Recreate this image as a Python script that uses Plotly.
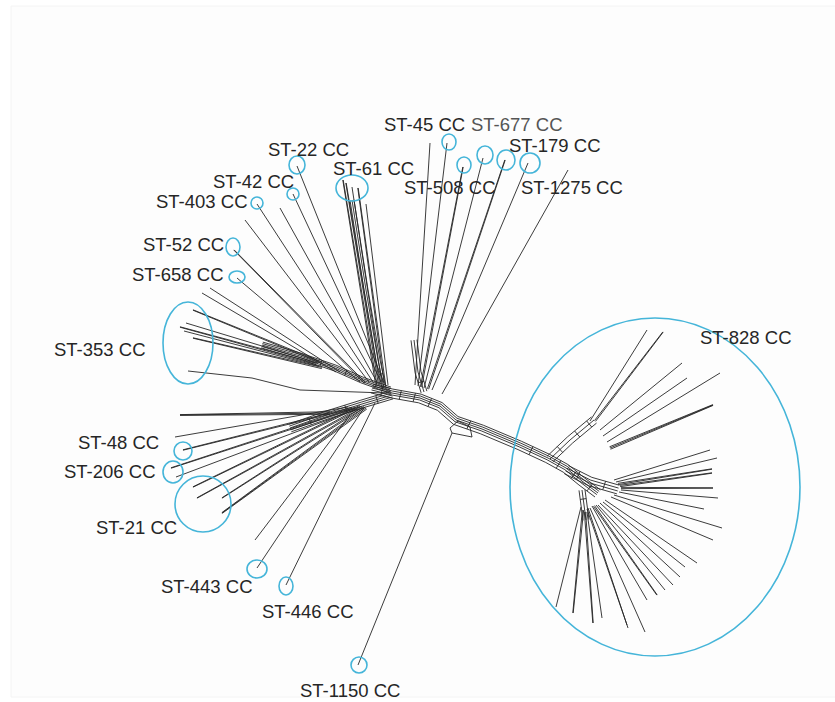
import numpy as np
import plotly.graph_objects as go

W, H = 835, 702

# ---------------- data: network nodes (pixel-like layout space) ----------------
# central backbone path of the split network
backbone_x = [372, 392, 420, 440, 456, 482, 520, 548, 566, 582, 598]
backbone_y = [388, 393, 398, 406, 420, 429, 445, 458, 468, 481, 493]
# upper-left bundle (ST-353 / ST-52 side)
ul_bundle_x = [262, 300, 335, 362, 390]
ul_bundle_y = [345, 356, 368, 380, 390]
# lower-left bundle (ST-48 / ST-21 side)
ll_bundle_x = [290, 330, 362, 392]
ll_bundle_y = [428, 414, 404, 395]
# ST-61 vertical bundle
v61_bundle_x = [352, 366, 378, 384]
v61_bundle_y = [200, 290, 360, 388]
# upper-right bundle
ur_bundle_x = [414, 418, 424]
ur_bundle_y = [340, 372, 392]
# ST-828 upper branch bundle
b828u_x = [550, 570, 594]
b828u_y = [459, 440, 420]
# ST-828 hub bundle
b828h_x = [566, 590, 618]
b828h_y = [470, 482, 490]
# ST-828 southern bundle
b828s_x = [582, 584, 586]
b828s_y = [490, 505, 520]

# leaves: tip -> attachment point on the network, strand count
ul_tip_x = [297, 293, 280, 257, 245, 234, 237, 210, 202, 193, 186, 180, 184, 193, 188]
ul_tip_y = [166, 194, 208, 204, 220, 250, 278, 288, 293, 310, 323, 327, 331, 338, 371]
ul_base_x = [384, 381, 377, 373, 369, 365, 360, 340, 336, 320, 318, 316, 318, 322, 252]
ul_base_y = [383, 382, 382, 382, 382, 383, 382, 372, 372, 362, 363, 364, 366, 368, 378]
ul_mult = [1, 1, 1, 1, 1, 2, 1, 1, 1, 2, 1, 2, 1, 2, 1]

# side branch of the lowest ST-353 leaf
ul_side_x = [252, 300, 385]
ul_side_y = [378, 390, 393]

v61_tip_x = [343, 346, 352, 358, 366]
v61_tip_y = [180, 183, 187, 188, 204]
v61_base_x = [376, 379, 382, 385, 388]
v61_base_y = [383, 384, 384, 385, 385]
v61_mult = [2, 2, 1, 2, 1]

ur_tip_x = [430, 447, 463, 483, 505, 528, 568]
ur_tip_y = [143, 143, 167, 158, 160, 163, 170]
ur_base_x = [415, 418, 421, 424, 428, 432, 442]
ur_base_y = [385, 386, 387, 388, 389, 390, 394]
ur_mult = [1, 1, 2, 1, 2, 1, 1]

ll_tip_x = [180, 175, 183, 171, 176, 193, 197, 222, 222, 255, 257, 286, 358]
ll_tip_y = [415, 437, 450, 468, 477, 487, 498, 498, 513, 540, 568, 585, 665]
ll_base_x = [330, 348, 352, 355, 357, 360, 362, 364, 366, 350, 364, 375, 452]
ll_base_y = [413, 407, 408, 408, 409, 406, 407, 407, 408, 415, 408, 403, 433]
ll_mult = [3, 1, 2, 2, 1, 2, 2, 2, 3, 1, 1, 1, 1]

e828_tip_x = [647, 663, 682, 687, 720, 713, 710, 717, 712, 712, 713, 718, 704, 722, 713,
              697, 685, 680, 673, 665, 657, 647, 645, 628, 627, 602, 593, 573, 556]
e828_tip_y = [330, 332, 363, 378, 373, 405, 450, 458, 469, 473, 488, 498, 509, 528, 540,
              563, 567, 577, 585, 590, 595, 600, 632, 628, 625, 618, 623, 613, 607]
e828_base_x = [590, 595, 600, 603, 607, 610, 614, 616, 618, 620, 621, 621, 619, 614, 611,
               605, 603, 600, 598, 596, 594, 592, 590, 588, 587, 587, 585, 583, 581]
e828_base_y = [421, 421, 430, 436, 442, 448, 480, 482, 484, 486, 488, 490, 492, 495, 497,
               500, 502, 503, 505, 505, 506, 506, 508, 508, 509, 512, 512, 510, 507]
e828_mult = [1, 2, 1, 1, 1, 3, 1, 1, 2, 2, 2, 1, 1, 1, 1,
             1, 1, 1, 1, 1, 2, 1, 1, 1, 1, 1, 2, 2, 1]

# small split box at the ST-1150 attachment
box_x = [450, 458, 470, 472, 452, 450]
box_y = [428, 421, 427, 437, 433, 428]

# clonal complex labels
labels = ["ST-45 CC", "ST-677 CC", "ST-22 CC", "ST-179 CC", "ST-61 CC", "ST-42 CC",
          "ST-508 CC", "ST-1275 CC", "ST-403 CC", "ST-52 CC", "ST-658 CC", "ST-353 CC",
          "ST-828 CC", "ST-48 CC", "ST-206 CC", "ST-21 CC", "ST-443 CC", "ST-446 CC",
          "ST-1150 CC"]
label_x = [424, 517, 308, 555, 373, 253, 450, 572, 202, 183, 178, 100, 746, 118, 110, 136, 207, 308, 350]
label_y = [124, 124, 149, 145, 168, 181, 187, 187, 201, 244, 274, 349, 337, 442, 471, 527, 586, 611, 690]

# cluster ellipses: centre x, centre y, radius x, radius y
ell_cx = [297, 293, 257, 352, 449, 464, 485, 506, 530, 233, 237, 188, 183, 173, 203, 257, 286, 359, 655]
ell_cy = [165, 194, 203, 188, 142, 165, 155, 160, 163, 247, 277, 343, 451, 472, 504, 569, 586, 665, 487]
ell_rx = [8, 6, 6, 16, 7, 7, 8, 9, 10, 7, 8, 25, 9, 10, 28, 10, 7, 8, 145]
ell_ry = [9, 6, 6, 13, 8, 8, 9, 10, 10, 9, 6, 41, 9, 11, 28, 9, 9, 8, 169]


# ---------------- helpers ----------------
def offset_poly(xs, ys, d):
    p = np.array([xs, ys], dtype=float).T
    seg = np.diff(p, axis=0)
    n = np.stack([-seg[:, 1], seg[:, 0]], axis=1)
    n /= np.linalg.norm(n, axis=1, keepdims=True)
    vn = np.zeros_like(p)
    vn[0] = n[0]
    vn[-1] = n[-1]
    for i in range(1, len(p) - 1):
        v = n[i - 1] + n[i]
        vn[i] = v / np.linalg.norm(v)
    q = p + d * vn
    return list(q[:, 0]), list(q[:, 1])


X, Y = [], []


def add(xs, ys):
    X.extend(list(xs) + [None])
    Y.extend(list(ys) + [None])


def bundle(xs, ys, offs, rungs=()):
    for d in offs:
        ox, oy = offset_poly(xs, ys, d)
        add(ox, oy)
    lo_x, lo_y = offset_poly(xs, ys, min(offs))
    hi_x, hi_y = offset_poly(xs, ys, max(offs))
    for (i, f) in rungs:
        ax = lo_x[i] + f * (lo_x[i + 1] - lo_x[i])
        ay = lo_y[i] + f * (lo_y[i + 1] - lo_y[i])
        bx = hi_x[i] + f * (hi_x[i + 1] - hi_x[i])
        by = hi_y[i] + f * (hi_y[i + 1] - hi_y[i])
        add([ax, bx], [ay, by])


def leaves(tx, ty, bx, by, mult):
    for x0, y0, x1, y1, m in zip(tx, ty, bx, by, mult):
        dx, dy = x1 - x0, y1 - y0
        L = np.hypot(dx, dy)
        nx, ny = -dy / L, dx / L
        for k in range(m):
            s = (k - (m - 1) / 2) * 1.3
            add([x0 + s * 0.3 * nx, x1 + s * nx], [y0 + s * 0.3 * ny, y1 + s * ny])


bundle(backbone_x, backbone_y, [-4, -2, 0, 2, 5],
       rungs=[(0, 0.5), (1, 0.3), (1, 0.8), (2, 0.5), (4, 0.5), (6, 0.4), (7, 0.6), (8, 0.5), (9, 0.5)])
bundle(ul_bundle_x, ul_bundle_y, [-3, -1.5, 0, 1.5, 3], rungs=[(1, 0.6), (2, 0.4), (3, 0.5)])
bundle(ll_bundle_x, ll_bundle_y, [-4, -2, 0, 2, 4], rungs=[(0, 0.5), (1, 0.5), (2, 0.5)])
bundle(v61_bundle_x, v61_bundle_y, [-2, 0, 2], rungs=[(2, 0.5)])
bundle(ur_bundle_x, ur_bundle_y, [-3, 0, 3], rungs=[(1, 0.5)])
bundle(b828u_x, b828u_y, [-4, 0, 4], rungs=[(0, 0.5), (1, 0.3), (1, 0.8)])
bundle(b828h_x, b828h_y, [-5, -2, 1, 4], rungs=[(0, 0.5), (1, 0.5)])
bundle(b828s_x, b828s_y, [-3, 0, 3], rungs=[(0, 0.6)])

leaves(ul_tip_x, ul_tip_y, ul_base_x, ul_base_y, ul_mult)
add(ul_side_x, ul_side_y)
leaves(v61_tip_x, v61_tip_y, v61_base_x, v61_base_y, v61_mult)
leaves(ur_tip_x, ur_tip_y, ur_base_x, ur_base_y, ur_mult)
leaves(ll_tip_x, ll_tip_y, ll_base_x, ll_base_y, ll_mult)
leaves(e828_tip_x, e828_tip_y, e828_base_x, e828_base_y, e828_mult)
add(box_x, box_y)

fig = go.Figure()
fig.add_trace(go.Scatter(x=X, y=Y, mode="lines", line=dict(color="#262626", width=0.9),
                         hoverinfo="skip", showlegend=False))

shapes = [dict(type="rect", xref="x", yref="y", x0=11, y0=6, x1=836, y1=697,
               fillcolor="#fdfdfd", line=dict(color="#f4f4f4", width=1), layer="below")]
for cx, cy, rx, ry in zip(ell_cx, ell_cy, ell_rx, ell_ry):
    shapes.append(dict(type="circle", xref="x", yref="y", x0=cx - rx, x1=cx + rx,
                       y0=cy - ry, y1=cy + ry, line=dict(color="#45b5d9", width=1.6)))

annotations = []
for t, x, y in zip(labels, label_x, label_y):
    annotations.append(dict(x=x, y=y, xref="x", yref="y", text=t, showarrow=False,
                            font=dict(family="Liberation Sans, Arial, sans-serif", size=18.5,
                                      color="#555555" if t == "ST-677 CC" else "#262626"),
                            xanchor="center", yanchor="middle"))

fig.update_layout(
    width=W, height=H, margin=dict(l=0, r=0, t=0, b=0),
    paper_bgcolor="white", plot_bgcolor="white",
    xaxis=dict(range=[0, W], visible=False, fixedrange=True),
    yaxis=dict(range=[H, 0], visible=False, fixedrange=True),
    shapes=shapes, annotations=annotations,
)
fig.write_html("out.html")
